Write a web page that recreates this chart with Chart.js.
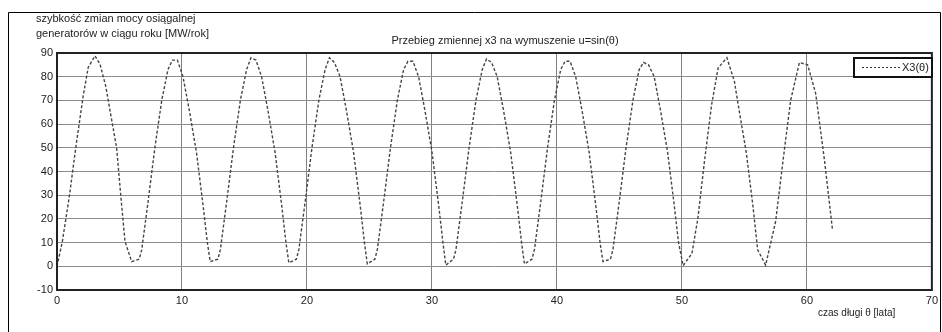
<!DOCTYPE html>
<html><head><meta charset="utf-8">
<script src="https://cdn.jsdelivr.net/npm/chart.js@4"></script>
<style>html,body{margin:0;padding:0;background:#fff;}#wrap{width:942px;height:332px;position:relative;}</style>
</head><body><div id="wrap"><canvas id="c" width="942" height="332"></canvas></div>
<script>
const titleText = 'Przebieg zmiennej x3 na wymuszenie u=sin(θ)';
const yTitleLines = ['szybkość zmian mocy osiągalnej', 'generatorów w ciągu roku [MW/rok]'];
const xTitleText = 'czas długi θ [lata]';
const seriesName = 'X3(θ)';
const xTicks = [0,10,20,30,40,50,60,70];
const yTicks = [-10,0,10,20,30,40,50,60,70,80,90];
const thetaValues = [
 0,0.43,1.0,1.5,2.1,2.5,3.04,3.44,3.9,4.3,4.77,5.1,5.44,5.97,
 6.58,6.78,7.28,7.83,8.38,8.88,9.23,9.63,10.08,10.58,11.16,11.68,12.03,12.26,
 12.87,13.07,13.57,14.12,14.67,15.17,15.52,15.92,16.37,16.87,17.45,17.97,18.32,18.55,
 19.15,19.35,19.85,20.4,20.95,21.45,21.8,22.2,22.65,23.15,23.73,24.25,24.6,24.83,
 25.43,25.63,26.13,26.68,27.23,27.73,28.08,28.48,28.93,29.43,30.01,30.53,30.88,31.11,
 31.72,31.92,32.42,32.97,33.52,34.02,34.37,34.77,35.22,35.72,36.3,36.82,37.17,37.4,
 38.0,38.2,38.7,39.25,39.8,40.3,40.65,41.05,41.5,42.0,42.58,43.1,43.45,43.68,
 44.28,44.48,44.98,45.53,46.08,46.58,46.93,47.33,47.78,48.28,48.86,49.38,49.73,50.1,
 50.8,51.27,51.82,52.37,52.9,53.6,54.2,54.57,55.15,55.67,56.06,56.7,
 57.5,58.1,58.7,59.4,60.06,60.7,61.4,62.05
];
const x3Values = [
 0,10.5,30,50,72,84,88.8,85.3,76,64,50,30,10.5,2,
 3,7,27,50,70,83,87,87,80,66,48,26,10,2,
 3,7,27,50,70,83,88,87,80,66,48,26,10,1.5,
 3,7,27,50,70,83,88,86,80,66,48,26,10,1,
 3,7,27,50,70,83,86.5,86.5,80,66,48,26,10,0.5,
 3,7,27,50,70,83,87.5,86,80,66,48,26,10,1,
 3,7,27,50,70,83,86.5,86.5,80,66,48,26,10,2,
 3,7,27,50,70,83,86,85,80,66,48,26,10,0.3,
 5.4,20,45,68,83.7,88,78,66,48,26,7,0.5,
 19,45,70,86,85,73,45,15.3
];

const FONT = 'Liberation Sans, Arial, sans-serif';
const pts = thetaValues.map((t,i)=>({x:t,y:x3Values[i]}));

const decor = {
  id:'decor',
  afterDraw(chart){
    const ctx = chart.ctx, a = chart.chartArea;
    ctx.save();
    // outer frame
    ctx.strokeStyle = '#000'; ctx.lineWidth = 1;
    ctx.beginPath();
    ctx.moveTo(8.5,332); ctx.lineTo(8.5,12.5); ctx.lineTo(940.5,12.5); ctx.lineTo(940.5,332);
    ctx.stroke();
    // plot box
    ctx.lineWidth = 2; ctx.strokeStyle = '#222';
    ctx.strokeRect(a.left, a.top, a.right - a.left, a.bottom - a.top);
    // texts
    ctx.fillStyle = '#222';
    ctx.font = '11px ' + FONT;
    ctx.textBaseline = 'middle'; ctx.textAlign = 'left';
    ctx.fillText(yTitleLines[0], 36, 19);
    ctx.fillText(yTitleLines[1], 36, 34);
    ctx.textAlign = 'center';
    ctx.fillText(titleText, 505, 41);
    ctx.font = '10px ' + FONT; ctx.textAlign = 'left';
    ctx.fillText(xTitleText, 818, 313);
    // legend
    const lx = 854, ly = 58, lw = 78, lh = 19;
    ctx.fillStyle = '#fff'; ctx.fillRect(lx, ly, lw, lh);
    ctx.lineWidth = 2; ctx.strokeStyle = '#111';
    ctx.strokeRect(lx, ly, lw, lh);
    ctx.save();
    ctx.beginPath(); ctx.rect(lx, ly, lw, lh); ctx.clip();
    ctx.lineWidth = 1; ctx.strokeStyle = '#333'; ctx.setLineDash([2,2]);
    ctx.beginPath(); ctx.moveTo(862, 67.5); ctx.lineTo(900, 67.5); ctx.stroke();
    ctx.setLineDash([]);
    ctx.fillStyle = '#222'; ctx.font = '11px ' + FONT; ctx.textAlign = 'left';
    ctx.fillText(seriesName, 902, 68);
    ctx.restore();
    ctx.restore();
  }
};

new Chart(document.getElementById('c'), {
  type: 'line',
  data: { datasets: [{ label: seriesName, data: pts, borderColor: '#444', borderWidth: 1.4,
    borderDash: [3,2], pointRadius: 0, tension: 0, fill: false }] },
  options: {
    responsive: false, animation: false, devicePixelRatio: 1,
    layout: { padding: { left: 0, top: 53, right: 8, bottom: 0 } },
    plugins: { legend: { display: false }, tooltip: { enabled: false }, title: { display: false } },
    scales: {
      x: { type: 'linear', min: 0, max: 70, afterBuildTicks: s => { s.ticks = xTicks.map(v=>({value:v})); },
        afterFit: s => { s.height = 42; },
        grid: { color: '#808080', lineWidth: 1, drawTicks: false },
        border: { display: false },
        ticks: { color: '#222', font: { family: FONT, size: 11 }, padding: 4, maxRotation: 0 } },
      y: { type: 'linear', min: -10, max: 90, afterBuildTicks: s => { s.ticks = yTicks.map(v=>({value:v})); },
        afterFit: s => { s.width = 57; },
        grid: { color: '#8c8c8c', lineWidth: 1, drawTicks: false },
        border: { display: false },
        ticks: { color: '#222', font: { family: FONT, size: 11 }, padding: 4 } }
    }
  },
  plugins: [decor]
});
</script></body></html>
